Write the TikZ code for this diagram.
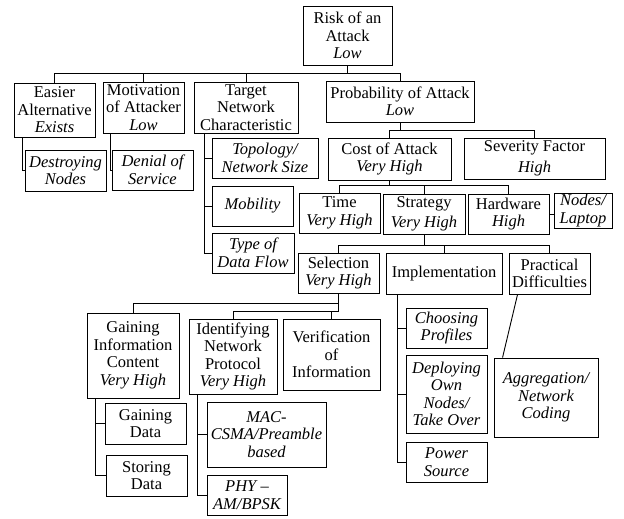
\documentclass[tikz,border=0pt]{standalone}
\usepackage{fontspec}
\setmainfont{Liberation Serif}
\begin{document}
\begin{tikzpicture}[x=1pt,y=-1pt,
  box/.style={draw,line width=0.9pt,rectangle,inner sep=0pt,align=center,
    font=\fontsize{16.5}{17.5}\selectfont},
  conn/.style={line width=0.9pt}]
\useasboundingbox (0,0) rectangle (624,519);
\newcommand\bx[6]{\node[box,minimum width={(#4-#2)*1pt},minimum height={(#5-#3)*1pt}] (#1) at ({(#2+#4)/2},{(#3+#5)/2}) {#6};}
\bx{root}{303}{6}{392}{65}{Risk of an\\Attack\\\textit{Low}}
\bx{easier}{14}{83}{95}{137}{Easier\\Alternative\\\textit{Exists}}
\bx{motiv}{103}{82}{184}{133}{Motivation\\of Attacker\\\textit{Low}}
\bx{target}{194}{82}{298}{133}{Target\\Network\\Characteristic}
\bx{prob}{326}{81}{474}{122}{Probability of Attack\\\textit{Low}}
\bx{destroy}{25}{150}{106}{191}{\itshape Destroying\\\itshape Nodes}
\bx{denial}{112}{150}{193}{190}{\itshape Denial of\\\itshape Service}
\bx{topo}{212}{138}{318}{178}{\itshape Topology/\\\itshape Network Size}
\bx{mobil}{212}{186}{293}{226}{\itshape Mobility}
\bx{typeflow}{212}{233}{294}{273}{\itshape Type of\\\itshape Data Flow}
\bx{cost}{328}{138}{451}{180}{Cost of Attack\\\textit{Very High}}
\bx{sever}{464}{138}{605}{179}{Severity Factor\\[3pt]\textit{High}}
\bx{time}{299}{193}{380}{233}{Time\\\textit{Very High}}
\bx{strat}{383}{194}{465}{234}{Strategy\\[2pt]\textit{Very High}}
\bx{hardw}{468}{194}{549}{234}{Hardware\\\textit{High}}
\bx{nodes}{554}{193}{612}{228}{\itshape Nodes/\\\itshape Laptop}
\bx{select}{298}{253}{379}{293}{Selection\\\textit{Very High}}
\bx{implem}{386}{253}{502}{294}{Implementation}
\bx{pract}{509}{253}{590}{294}{Practical\\Difficulties}
\bx{gaininfo}{87}{313}{179}{398}{Gaining\\Information\\Content\\\textit{Very High}}
\bx{ident}{189}{319}{277}{394}{Identifying\\Network\\Protocol\\\textit{Very High}}
\bx{verif}{283}{319}{380}{390}{Verification\\of\\Information}
\bx{gdata}{105}{403}{186}{444}{Gaining\\Data}
\bx{sdata}{106}{455}{187}{496}{Storing\\Data}
\bx{mac}{207}{402}{326}{467}{\itshape MAC-\\\itshape CSMA/Preamble\\\itshape based}
\bx{phy}{207}{475}{287}{515}{\itshape PHY –\\\itshape AM/BPSK}
\bx{choose}{406}{308}{487}{348}{\itshape Choosing\\\itshape Profiles}
\bx{deploy}{406}{355}{487}{433}{\itshape Deploying\\\itshape Own\\\itshape Nodes/\\\itshape Take Over}
\bx{power}{406}{442}{487}{482}{\itshape Power\\\itshape Source}
\bx{aggr}{494}{358}{598}{437}{\itshape Aggregation/\\\itshape Network\\\itshape Coding}
% root bus
\coordinate (b0) at (root.south |- 0,73);
\draw[conn] (root.south) -- (b0);
\draw[conn] (b0) -| (easier.north);
\draw[conn] (b0) -| (motiv.north);
\draw[conn] (b0) -| (target.north);
\draw[conn] (b0) -| (prob.north);
% probability bus
\coordinate (b1) at (prob.south |- 0,130);
\draw[conn] (prob.south) -- (b1);
\draw[conn] (b1) -| (cost.north);
\draw[conn] (b1) -| (sever.north);
% cost bus
\coordinate (b2) at (cost.south |- 0,185);
\draw[conn] (cost.south) -- (b2);
\draw[conn] (b2) -| (time.north);
\draw[conn] (b2) -| (strat.north);
\draw[conn] (b2) -| (hardw.north);
% strategy bus
\coordinate (b3) at (strat.south |- 0,245);
\draw[conn] (strat.south) -- (b3);
\draw[conn] (b3) -| (select.north);
\draw[conn] (b3) -| (implem.north);
\draw[conn] (b3) -| (pract.north);
% selection buses
\coordinate (b4) at (select.south |- 0,303);
\coordinate (b5) at (select.south |- 0,311);
\draw[conn] (select.south) -- (b5);
\draw[conn] (b4) -| (gaininfo.north);
\draw[conn] (b5) -| (ident.north);
\draw[conn] (b5) -| (verif.north);
% side brackets
\draw[conn] ([xshift=9pt]easier.south west) |- (destroy.west);
\draw[conn] ([xshift=8pt]motiv.south west) |- (denial.west);
\draw[conn] ([xshift=11pt]target.south west) |- (typeflow.west);
\draw[conn] ([xshift=11pt]target.south west |- topo.west) -- (topo.west);
\draw[conn] ([xshift=11pt]target.south west |- mobil.west) -- (mobil.west);
\draw[conn] ([xshift=9pt]gaininfo.south west) |- (sdata.west);
\draw[conn] ([xshift=9pt]gaininfo.south west |- gdata.west) -- (gdata.west);
\draw[conn] ([xshift=9pt]ident.south west) |- (phy.west);
\draw[conn] ([xshift=9pt]ident.south west |- mac.west) -- (mac.west);
\draw[conn] ([xshift=12pt]implem.south west) |- (power.west);
\draw[conn] ([xshift=12pt]implem.south west |- choose.west) -- (choose.west);
\draw[conn] ([xshift=12pt]implem.south west |- deploy.west) -- (deploy.west);
\draw[conn] (hardw.east) -- (hardw.east -| nodes.west);
\draw[conn] ([xshift=9pt]pract.south west) -- ([xshift=9pt]aggr.north west);
\end{tikzpicture}
\end{document}
